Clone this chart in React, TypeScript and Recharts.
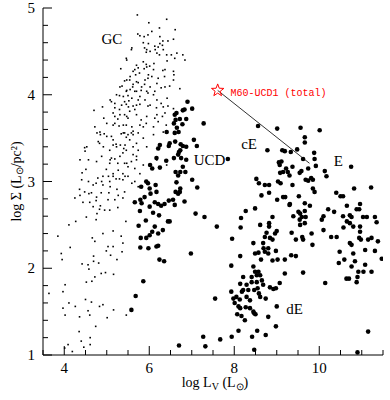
import { ScatterChart, Scatter, XAxis, YAxis, ReferenceDot, ReferenceLine } from 'recharts';

// axis ticks
const xTicks = [3.5, 4, 4.5, 5, 5.5, 6, 6.5, 7, 7.5, 8, 8.5, 9, 9.5, 10, 10.5, 11, 11.5];
const xLabels = [4, 6, 8, 10];
const yTicks = [1, 1.2, 1.4, 1.6, 1.8, 2, 2.2, 2.4, 2.6, 2.8, 3, 3.2, 3.4, 3.6, 3.8, 4, 4.2, 4.4, 4.6, 4.8, 5];
const yLabels = [1, 2, 3, 4, 5];

// globular clusters (small dots): [log Lv, log Sigma]
const gcPoints: [number, number][] = [
  [5.72, 4.92], [5.99, 4.83], [6.41, 4.87], [6.24, 4.77], [6.61, 4.75], [6.06, 4.73], [5.73, 4.7], [5.78, 4.68],
  [5.88, 4.67], [6.25, 4.67], [6.57, 4.64], [5.86, 4.6], [5.98, 4.59], [5.59, 4.54], [5.47, 4.4], [6.25, 4.59],
  [6.31, 4.57], [6.21, 4.55], [6.14, 4.52], [6.18, 4.48], [5.94, 4.52], [6.02, 4.5], [6.33, 4.52], [6.65, 4.48],
  [6.79, 4.46], [6.84, 4.4], [6.41, 4.46], [5.7, 4.34], [5.86, 4.38], [6.11, 4.36], [6.57, 4.27], [6.37, 4.29],
  [6.72, 4.07], [5.33, 4.3], [5.55, 4.21], [5.62, 4.27], [5.77, 4.25], [5.88, 4.3], [5.94, 4.32], [5.98, 4.23],
  [6.06, 4.21], [6.1, 4.29], [5.9, 4.17], [5.7, 4.15], [5.47, 4.17], [5.31, 4.09], [5.61, 4.09], [5.82, 4.09],
  [6.02, 4.09], [6.18, 4.13], [6.37, 4.09], [6.57, 4.17], [5.47, 4.05], [5.7, 4.04], [5.94, 4.04], [6.1, 4.0],
  [5.23, 4.0], [5.39, 3.98], [5.59, 3.96], [5.78, 3.98], [5.9, 3.94], [6.18, 3.94], [5.08, 3.94], [4.7, 3.82],
  [4.9, 3.86], [5.19, 3.9], [5.35, 3.88], [5.51, 3.86], [5.7, 3.88], [6.02, 3.88], [6.33, 3.86], [6.57, 3.84],
  [5.15, 3.79], [5.31, 3.77], [5.47, 3.75], [5.7, 3.77], [5.94, 3.75], [6.18, 3.77], [6.37, 3.79], [4.72, 3.63],
  [4.84, 3.57], [5.0, 3.67], [5.19, 3.67], [5.39, 3.65], [5.59, 3.63], [5.86, 3.63], [6.1, 3.63], [6.33, 3.57],
  [5.39, 3.56], [5.62, 3.54], [5.86, 3.5], [6.1, 3.54], [5.15, 3.48], [5.0, 3.52], [4.8, 3.46], [4.53, 3.4],
  [4.49, 3.35], [4.92, 3.4], [5.23, 3.4], [5.43, 3.42], [5.62, 3.4], [5.94, 3.4], [6.25, 3.4], [4.37, 3.25],
  [4.51, 3.14], [4.76, 3.23], [4.88, 3.29], [5.08, 3.25], [5.31, 3.29], [5.47, 3.21], [5.7, 3.29], [5.86, 3.19],
  [6.18, 3.25], [6.41, 3.19], [4.41, 3.02], [4.68, 2.96], [4.88, 3.0], [5.04, 3.06], [5.27, 3.13], [5.43, 3.06],
  [5.59, 2.98], [5.78, 3.09], [5.74, 2.94], [5.08, 2.94], [5.27, 2.84], [4.37, 2.84], [4.76, 2.82], [4.25, 2.81],
  [4.58, 2.86], [4.77, 3.56], [4.85, 3.54], [4.94, 3.55], [5.11, 3.52], [5.34, 3.55], [5.42, 3.56], [5.5, 3.54],
  [5.58, 3.56], [5.46, 3.51], [5.62, 3.58], [5.74, 3.56], [4.83, 3.44], [4.48, 3.39], [5.15, 3.42], [5.22, 3.43],
  [5.32, 3.42], [5.4, 3.38], [5.46, 3.36], [5.54, 3.48], [5.7, 3.44], [5.07, 3.36], [5.74, 3.36], [5.62, 3.31],
  [5.38, 3.33], [5.11, 3.27], [5.19, 3.26], [4.57, 3.25], [4.42, 3.1], [5.07, 3.21], [5.26, 3.21], [5.42, 3.21],
  [5.58, 3.23], [5.7, 3.25], [4.99, 3.14], [5.15, 3.09], [5.38, 3.09], [5.5, 3.17], [5.66, 3.15], [5.15, 3.06],
  [4.91, 3.06], [5.22, 3.03], [5.3, 3.03], [5.5, 3.06], [4.79, 3.04], [4.57, 3.0], [4.75, 2.98], [4.91, 2.96],
  [5.07, 3.0], [5.38, 3.02], [5.66, 3.0], [4.36, 2.91], [4.48, 2.88], [4.64, 2.87], [4.87, 2.87], [5.05, 2.87],
  [5.24, 2.91], [5.42, 2.88], [4.44, 2.76], [4.6, 2.76], [4.75, 2.78], [5.03, 2.79], [5.19, 2.79], [5.38, 2.81],
  [4.85, 2.72], [4.83, 2.68], [4.95, 2.67], [4.68, 2.71], [5.07, 2.67], [5.26, 2.7], [4.52, 2.59], [4.77, 2.63],
  [4.11, 2.5], [4.27, 2.54], [4.75, 2.56], [5.45, 2.54], [3.85, 2.37], [4.91, 2.4], [5.15, 2.43], [5.34, 2.37],
  [4.66, 2.35], [4.72, 2.31], [4.14, 2.24], [5.03, 2.25], [5.15, 2.25], [5.38, 2.29], [3.93, 2.17], [3.95, 2.1],
  [4.69, 2.14], [4.99, 2.2], [5.09, 2.15], [5.36, 2.19], [5.24, 2.1], [4.42, 2.05], [4.56, 2.04], [4.69, 2.08],
  [4.81, 2.06], [4.58, 1.99], [4.87, 1.94], [4.97, 1.95], [5.16, 1.93], [4.72, 1.9], [4.52, 1.84], [4.65, 1.85],
  [4.02, 1.81], [3.97, 1.73], [3.64, 1.71], [4.5, 1.64], [4.11, 1.6], [4.26, 1.56], [4.64, 1.61], [4.83, 1.56],
  [4.91, 1.58], [3.97, 1.54], [4.56, 1.51], [4.6, 1.46], [5.16, 1.52], [4.02, 1.46], [4.36, 1.44], [5.01, 1.43],
  [5.46, 1.46], [4.74, 1.33], [4.35, 1.27], [4.61, 1.2], [4.4, 1.16], [4.61, 1.12], [4.09, 1.12], [4.46, 1.09],
  [4.19, 1.04], [4.01, 1.08], [5.97, 4.69], [6.32, 4.62], [6.44, 4.62], [5.89, 4.54], [5.93, 4.49], [6.13, 4.56],
  [6.24, 4.46], [6.52, 4.46], [6.6, 4.42], [6.42, 4.39], [5.93, 4.35], [6.01, 4.33], [6.32, 4.28], [6.58, 4.23],
  [6.36, 4.21], [6.21, 4.19], [5.97, 4.19], [5.89, 4.12], [6.48, 4.1], [6.28, 4.08], [6.13, 4.04], [5.97, 4.02],
  [6.42, 3.96], [6.44, 3.87], [6.28, 3.9], [6.17, 3.85], [5.97, 3.87], [6.31, 3.75], [6.13, 3.73], [6.21, 3.69],
  [5.93, 3.67], [6.4, 3.65], [5.58, 4.52], [5.46, 4.42], [5.66, 4.29], [5.74, 4.31], [5.68, 4.23], [5.42, 4.16],
  [5.54, 4.17], [5.62, 4.12], [5.74, 4.14], [5.36, 4.1], [5.46, 4.04], [5.55, 4.06], [5.66, 4.04], [5.81, 4.05],
  [5.3, 3.99], [5.5, 3.99], [5.52, 3.93], [5.42, 3.92], [5.46, 3.89], [5.74, 3.94], [5.78, 3.89], [5.62, 3.87],
  [5.19, 3.85], [5.3, 3.83], [5.54, 3.81], [5.66, 3.83], [5.11, 3.92], [4.93, 3.73], [5.19, 3.75], [5.26, 3.72],
  [5.42, 3.77], [5.5, 3.73], [5.81, 3.71], [5.15, 3.65], [5.29, 3.64], [5.46, 3.65], [5.78, 3.65],
];

// UCDs and galaxies (big dots)
const galaxyPoints: [number, number][] = [
  [6.9, 3.92], [7.01, 3.84], [6.83, 3.83], [6.79, 3.82], [6.64, 3.79], [6.87, 3.72], [6.72, 3.72], [6.6, 3.77],
  [6.58, 3.67], [6.78, 3.66], [7.28, 3.67], [6.62, 3.71], [6.65, 3.62], [6.41, 3.57], [6.69, 3.57], [6.6, 3.56],
  [7.05, 3.48], [7.12, 3.41], [6.48, 3.44], [6.46, 3.41], [6.61, 3.46], [6.74, 3.43], [6.79, 3.41], [6.87, 3.4],
  [6.7, 3.34], [6.73, 3.36], [6.68, 3.31], [6.25, 3.42], [6.21, 3.38], [6.17, 3.27], [6.4, 3.24], [6.58, 3.27],
  [6.75, 3.27], [6.87, 3.25], [6.79, 3.17], [6.02, 3.19], [6.07, 3.15], [6.25, 3.16], [6.62, 3.11], [6.73, 3.11],
  [6.68, 3.07], [6.85, 3.11], [7.01, 3.02], [6.64, 2.99], [5.93, 3.0], [5.97, 2.98], [6.15, 2.96], [6.01, 2.92],
  [7.13, 2.93], [6.73, 2.92], [6.72, 2.88], [6.62, 2.88], [6.68, 2.86], [6.17, 2.88], [6.03, 2.86], [5.89, 2.82],
  [6.56, 2.79], [6.46, 2.78], [6.83, 2.77], [6.13, 2.76], [6.21, 2.74], [6.28, 2.72], [6.36, 2.74], [6.6, 2.73],
  [6.01, 2.71], [6.09, 2.64], [6.23, 2.61], [7.09, 2.63], [7.3, 2.59], [6.44, 2.54], [6.48, 2.54], [5.92, 2.55],
  [6.13, 2.48], [7.59, 2.48], [8.15, 2.47], [6.07, 2.42], [6.21, 2.4], [6.32, 2.44], [5.93, 2.35], [6.01, 2.38],
  [7.95, 2.34], [6.17, 2.25], [6.21, 2.26], [7.85, 3.26], [5.81, 2.94], [5.66, 2.76], [5.79, 2.79],
  [5.78, 2.66], [5.75, 2.49], [5.8, 2.35], [5.79, 2.24], [5.68, 1.68], [5.58, 1.52], [5.82, 2.75], [5.98, 2.23],
  [6.24, 2.1], [6.35, 2.08], [6.98, 2.17], [5.86, 1.85], [6.7, 1.11], [7.93, 2.03], [8.14, 2.14], [8.21, 1.9],
  [8.14, 1.82], [7.93, 1.73], [8.18, 1.73], [8.05, 1.67], [8.13, 1.64], [7.55, 1.65], [8.01, 1.6], [8.14, 1.54],
  [8.07, 1.47], [8.17, 1.45], [8.1, 1.28], [7.27, 1.21], [7.67, 1.18], [7.32, 1.1], [9.31, 2.74], [9.66, 2.75],
  [9.78, 2.72], [9.51, 2.65], [9.55, 2.63], [9.39, 2.6], [9.59, 2.59], [8.49, 2.69], [8.27, 2.66], [8.16, 2.58],
  [8.9, 2.59], [10.1, 2.6], [10.06, 2.56], [10.21, 2.68], [10.35, 2.65], [10.65, 2.72], [10.88, 2.68], [10.96, 2.74],
  [10.72, 2.61], [10.76, 2.59], [10.65, 2.54], [10.72, 2.52], [10.8, 2.48], [10.96, 2.48], [10.96, 2.42], [11.12, 2.59],
  [11.35, 2.53], [10.57, 2.47], [10.1, 2.44], [10.28, 2.36], [10.41, 2.36], [9.82, 2.4], [9.6, 2.36], [9.62, 2.33],
  [9.35, 2.41], [9.55, 2.5], [9.66, 2.52], [8.82, 2.52], [9.0, 2.43], [8.96, 2.4], [8.76, 2.41], [8.72, 2.36],
  [8.61, 2.5], [8.84, 2.35], [8.68, 2.29], [8.8, 2.23], [8.72, 2.19], [8.9, 2.33], [8.45, 2.29], [8.49, 2.17],
  [8.57, 2.18], [8.63, 2.1], [8.8, 2.17], [8.98, 2.2], [9.02, 2.1], [8.9, 2.09], [8.45, 2.02], [8.49, 1.96],
  [8.57, 1.96], [8.53, 1.92], [8.61, 1.92], [8.41, 1.9], [8.65, 1.86], [8.53, 1.84], [8.41, 1.84], [8.29, 1.81],
  [8.21, 1.75], [8.47, 1.75], [8.33, 1.75], [8.55, 1.77], [8.68, 1.81], [8.84, 1.78], [8.92, 1.76], [8.98, 1.77],
  [8.74, 1.65], [8.61, 1.67], [8.29, 1.67], [8.37, 1.63], [7.98, 1.65], [8.1, 1.56], [8.37, 1.54], [8.45, 1.5],
  [8.47, 1.48], [8.5, 1.47], [8.8, 1.44], [9.0, 1.56], [8.25, 1.4], [8.54, 1.28], [8.42, 1.21], [8.74, 1.23],
  [8.98, 1.33], [7.94, 1.21], [8.47, 1.06], [9.19, 1.94], [10.14, 1.83], [10.7, 1.88], [10.64, 1.88], [10.9, 1.9],
  [10.88, 1.84], [11.08, 2.04], [11.04, 1.96], [11.23, 1.96], [10.46, 2.06], [10.84, 2.08], [10.59, 2.1], [10.76, 2.02],
  [10.8, 2.17], [11.08, 2.21], [11.31, 2.2], [10.72, 2.29], [10.76, 2.27], [10.94, 2.35], [10.98, 2.33], [11.23, 2.35],
  [11.38, 2.31], [11.47, 2.11], [10.9, 1.03], [11.15, 1.27], [8.56, 3.64], [9.01, 3.61], [9.56, 3.62], [10.01, 3.59],
  [9.66, 3.51], [9.66, 3.45], [8.78, 3.36], [9.13, 3.36], [9.19, 3.35], [9.33, 3.34], [9.48, 3.37], [9.88, 3.33],
  [9.62, 3.26], [9.89, 3.26], [10.75, 3.17], [9.05, 3.22], [9.11, 3.23], [9.07, 3.19], [9.37, 3.17], [9.22, 3.15],
  [9.26, 3.11], [9.15, 3.11], [9.08, 3.1], [9.54, 3.1], [9.58, 3.12], [9.74, 3.15], [9.92, 3.18], [10.13, 3.12],
  [10.17, 3.06], [9.81, 3.04], [9.85, 3.02], [9.68, 3.02], [9.74, 3.01], [9.3, 3.07], [8.52, 3.03], [8.58, 2.98],
  [8.72, 2.96], [8.82, 2.96], [9.03, 3.0], [9.09, 2.98], [9.37, 2.96], [9.85, 2.92], [9.89, 2.88], [8.82, 2.87],
  [8.64, 2.84], [9.01, 2.79], [9.15, 2.82], [9.2, 2.82], [9.52, 2.83], [10.4, 2.87], [10.5, 2.83], [10.56, 2.83],
  [11.22, 2.93], [10.82, 2.92], [9.3, 2.73], [10.94, 2.68], [11.31, 2.59], [10.56, 2.6], [9.66, 2.66], [9.68, 2.59],
  [11.03, 2.59], [9.54, 2.56], [8.82, 2.48], [8.69, 2.23], [9.45, 2.33], [9.84, 2.27], [9.34, 2.15], [9.45, 2.14],
  [10.48, 2.19], [11.15, 2.33], [9.19, 2.1], [10.92, 1.96], [9.07, 1.83], [9.62, 1.95], [8.58, 1.71], [8.27, 1.55],
];

// M60-UCD1 (total) and the line to its host
const m60 = { x: 7.61, y: 4.05 };
const m60Line = [{ x: 7.61, y: 4.05 }, { x: 9.77, y: 3.21 }];

// text labels placed in data coordinates
const groupLabels = [
  { text: 'GC', x: 5.12, y: 4.64 },
  { text: 'UCD', x: 7.42, y: 3.25 },
  { text: 'cE', x: 8.35, y: 3.43 },
  { text: 'E', x: 10.45, y: 3.24 },
  { text: 'dE', x: 9.42, y: 1.53 },
];
const m60Label = { text: 'M60-UCD1 (total)', x: 7.91, y: 4.02 };

const SERIF = "'Times New Roman', 'Liberation Serif', serif";
const MONO = "'Courier New', 'Liberation Mono', monospace";
const MAJOR = 9;
const MINOR = 5;

const gcData = gcPoints.map(([x, y]) => ({ x, y }));
const galaxyData = galaxyPoints.map(([x, y]) => ({ x, y }));

const BottomTick = ({ x, y, payload }: any) => {
  const major = xLabels.includes(payload.value);
  return (
    <g>
      <line x1={x} x2={x} y1={y} y2={y - (major ? MAJOR : MINOR)} stroke="#000" />
      {major && (
        <text x={x} y={y + 18} textAnchor="middle" fontFamily={SERIF} fontSize={15} fill="#000">
          {payload.value}
        </text>
      )}
    </g>
  );
};

const TopTick = ({ x, y, payload }: any) => {
  const major = xLabels.includes(payload.value);
  return <line x1={x} x2={x} y1={y} y2={y + (major ? MAJOR : MINOR)} stroke="#000" />;
};

const LeftTick = ({ x, y, payload }: any) => {
  const major = yLabels.includes(payload.value);
  return (
    <g>
      <line x1={x} x2={x + (major ? MAJOR : MINOR)} y1={y} y2={y} stroke="#000" />
      {major && (
        <text x={x - 8} y={y} textAnchor="end" dominantBaseline="central" fontFamily={SERIF} fontSize={15} fill="#000">
          {payload.value}
        </text>
      )}
    </g>
  );
};

const RightTick = ({ x, y, payload }: any) => {
  const major = yLabels.includes(payload.value);
  return <line x1={x} x2={x - (major ? MAJOR : MINOR)} y1={y} y2={y} stroke="#000" />;
};

const XTitle = ({ viewBox }: any) => {
  const cx = viewBox.x + viewBox.width / 2 + 2;
  const cy = viewBox.y + 32;
  return (
    <text x={cx} y={cy} textAnchor="middle" fontFamily={SERIF} fontSize={14} fill="#000">
      log L<tspan fontSize={10} dy={3}>V</tspan>
      <tspan dy={-3}> (L</tspan>
      <tspan fontSize={10} dy={3}>⊙</tspan>
      <tspan dy={-3}>)</tspan>
    </text>
  );
};

const YTitle = ({ viewBox }: any) => {
  const cx = viewBox.x + 16;
  const cy = viewBox.y + viewBox.height / 2;
  return (
    <text transform={`translate(${cx},${cy}) rotate(-90)`} textAnchor="middle" dominantBaseline="central" fontFamily={SERIF} fontSize={14} fill="#000">
      log Σ (L<tspan fontSize={10} dy={3}>⊙</tspan>
      <tspan dy={-3}>/pc²)</tspan>
    </text>
  );
};

const SmallDot = ({ cx, cy }: any) => <rect x={cx - 0.8} y={cy - 0.8} width={1.6} height={1.6} fill="#000" />;
const BigDot = ({ cx, cy }: any) => <circle cx={cx} cy={cy} r={2.3} fill="#000" />;

const StarShape = ({ cx, cy }: any) => {
  const pts: string[] = [];
  for (let i = 0; i < 10; i++) {
    const r = i % 2 === 0 ? 6.5 : 2.7;
    const a = -Math.PI / 2 + (i * Math.PI) / 5;
    pts.push(`${cx + r * Math.cos(a)},${cy + r * Math.sin(a)}`);
  }
  return <polygon points={pts.join(' ')} fill="none" stroke="#ff0000" strokeWidth={1} />;
};

const labelShape = (text: string, opts: any) => ({ cx, cy }: any) => (
  <text x={cx} y={cy} dominantBaseline="central" fill="#000" {...opts}>
    {text}
  </text>
);

export default function App() {
  return (
    <div style={{ position: 'absolute', left: 0, top: 0, background: '#fff' }}>
      <ScatterChart width={390} height={400} margin={{ top: 8, right: 7, bottom: 0, left: 0 }}>
        <XAxis
          xAxisId="bottom"
          dataKey="x"
          type="number"
          domain={[3.5, 11.5]}
          allowDataOverflow
          ticks={xTicks}
          interval={0}
          height={45}
          stroke="#000"
          tickLine={false}
          tickSize={0}
          tickMargin={0}
          tick={(p: any) => <BottomTick {...p} />}
          label={{ content: (p: any) => <XTitle {...p} /> }}
        />
        <XAxis
          xAxisId="top"
          orientation="top"
          dataKey="x"
          type="number"
          domain={[3.5, 11.5]}
          allowDataOverflow
          ticks={xTicks}
          interval={0}
          height={0}
          stroke="#000"
          tickLine={false}
          tickSize={0}
          tickMargin={0}
          tick={(p: any) => <TopTick {...p} />}
        />
        <YAxis
          yAxisId="left"
          dataKey="y"
          type="number"
          domain={[1, 5]}
          allowDataOverflow
          ticks={yTicks}
          interval={0}
          width={43}
          stroke="#000"
          tickLine={false}
          tickSize={0}
          tickMargin={0}
          tick={(p: any) => <LeftTick {...p} />}
          label={{ content: (p: any) => <YTitle {...p} /> }}
        />
        <YAxis
          yAxisId="right"
          orientation="right"
          dataKey="y"
          type="number"
          domain={[1, 5]}
          allowDataOverflow
          ticks={yTicks}
          interval={0}
          width={0}
          stroke="#000"
          tickLine={false}
          tickSize={0}
          tickMargin={0}
          tick={(p: any) => <RightTick {...p} />}
        />
        <Scatter data={gcData} xAxisId="top" yAxisId="right" shape={<SmallDot />} isAnimationActive={false} />
        <Scatter data={galaxyData} xAxisId="bottom" yAxisId="left" shape={<BigDot />} isAnimationActive={false} />
        <ReferenceLine
          xAxisId="bottom"
          yAxisId="left"
          segment={m60Line}
          stroke="#333"
          strokeWidth={1}
        />
        <ReferenceDot xAxisId="bottom" yAxisId="left" x={m60.x} y={m60.y} r={6} shape={(p: any) => <StarShape {...p} />} />
        {groupLabels.map((l) => (
          <ReferenceDot
            key={l.text}
            xAxisId="bottom"
            yAxisId="left"
            x={l.x}
            y={l.y}
            r={1}
            shape={labelShape(l.text, { textAnchor: 'middle', fontFamily: SERIF, fontSize: 15 })}
          />
        ))}
        <ReferenceDot
          xAxisId="bottom"
          yAxisId="left"
          x={m60Label.x}
          y={m60Label.y}
          r={1}
          shape={labelShape(m60Label.text, { textAnchor: 'start', fontFamily: MONO, fontSize: 10, fill: '#ff0000' })}
        />
      </ScatterChart>
    </div>
  );
}
